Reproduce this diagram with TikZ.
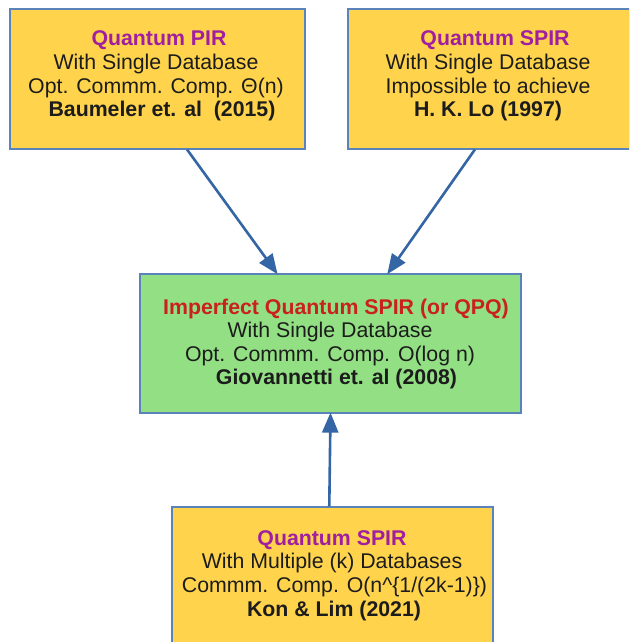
\documentclass[tikz,border=0pt]{standalone}
\usepackage{fontspec}
\setmainfont{Liberation Sans}
\usetikzlibrary{arrows.meta,calc}
\definecolor{boxyellow}{HTML}{FFD44C}
\definecolor{boxgreen}{HTML}{92E083}
\definecolor{edgeblue}{HTML}{5A83B9}
\definecolor{arrowblue}{HTML}{3465A4}
\definecolor{titlepurple}{HTML}{A01EA0}
\definecolor{titlered}{HTML}{C9211E}
\definecolor{bodytext}{HTML}{1C1C1C}
\newcommand{\titlep}[1]{\textcolor{titlepurple}{\textbf{#1}}}
\newcommand{\titler}[1]{\textcolor{titlered}{\textbf{#1}}}
\begin{document}
\begin{tikzpicture}[x=1pt,y=-1pt,
  box/.style={draw=edgeblue,line width=1.2pt,rectangle,inner sep=0pt},
  txt/.style={align=center,inner sep=0pt,text=bodytext,
    font=\fontsize{21.3}{23.6}\selectfont},
  link/.style={draw=arrowblue,line width=2.6pt,
    -{Triangle[length=20pt,width=16pt]},shorten >=-1pt}]
\useasboundingbox (0,0) rectangle (629,642);
\clip (0,0) rectangle (629,642);

% boxes
\node[box,fill=boxyellow,minimum width=295,minimum height=140] (pir) at (157.5,79) {};
\node[box,fill=boxyellow,minimum width=282,minimum height=140] (spir) at (489,79) {};
\node[box,fill=boxgreen,minimum width=381,minimum height=139] (qpq) at (330.5,343.5) {};
\node[box,fill=boxyellow,minimum width=321,minimum height=160] (multi) at (332.5,587) {};

% texts
\node[txt] (pirtxt) at (156,76) {\hspace*{6pt}\titlep{Quantum PIR}\\
  With Single Database\\
  Opt. Commm. Comp. Θ(n)\\
  \hspace*{12pt}\textbf{Baumeler et. al\ \ (2015)}};
\node[txt] (spirtxt) at (488,76) {\hspace*{14pt}\titlep{Quantum SPIR}\\
  With Single Database\\
  Impossible to achieve\\
  \textbf{H. K. Lo (1997)}};
\node[txt] (qpqtxt) at (330,344) {\hspace*{12pt}\titler{Imperfect Quantum SPIR (or QPQ)}\\
  With Single Database\hspace*{25pt}\\
  Opt. Commm. Comp. O(log n)\hspace*{10pt}\\
  \hspace*{13pt}\textbf{Giovannetti et. al (2008)}};
\node[txt] (multitxt) at (332,575.5) {\titlep{Quantum SPIR}\\
  With Multiple (k) Databases\hspace*{14pt}\\
  \hspace*{5pt}Commm. Comp. O(n\^{}\{1/(2k-1)\})\\
  \hspace*{4pt}\textbf{Kon \& Lim (2021)}};

% connectors
\draw[link] ($(pir.south west)!0.6!(pir.south east)$) -- ($(qpq.north west)!0.36!(qpq.north east)$);
\draw[link] ($(spir.south west)!0.45!(spir.south east)$) -- ($(qpq.north west)!0.65!(qpq.north east)$);
\draw[link] ($(multi.north west)!0.49!(multi.north east)$) -- ($(qpq.south west)!0.5!(qpq.south east)$);
\end{tikzpicture}
\end{document}
